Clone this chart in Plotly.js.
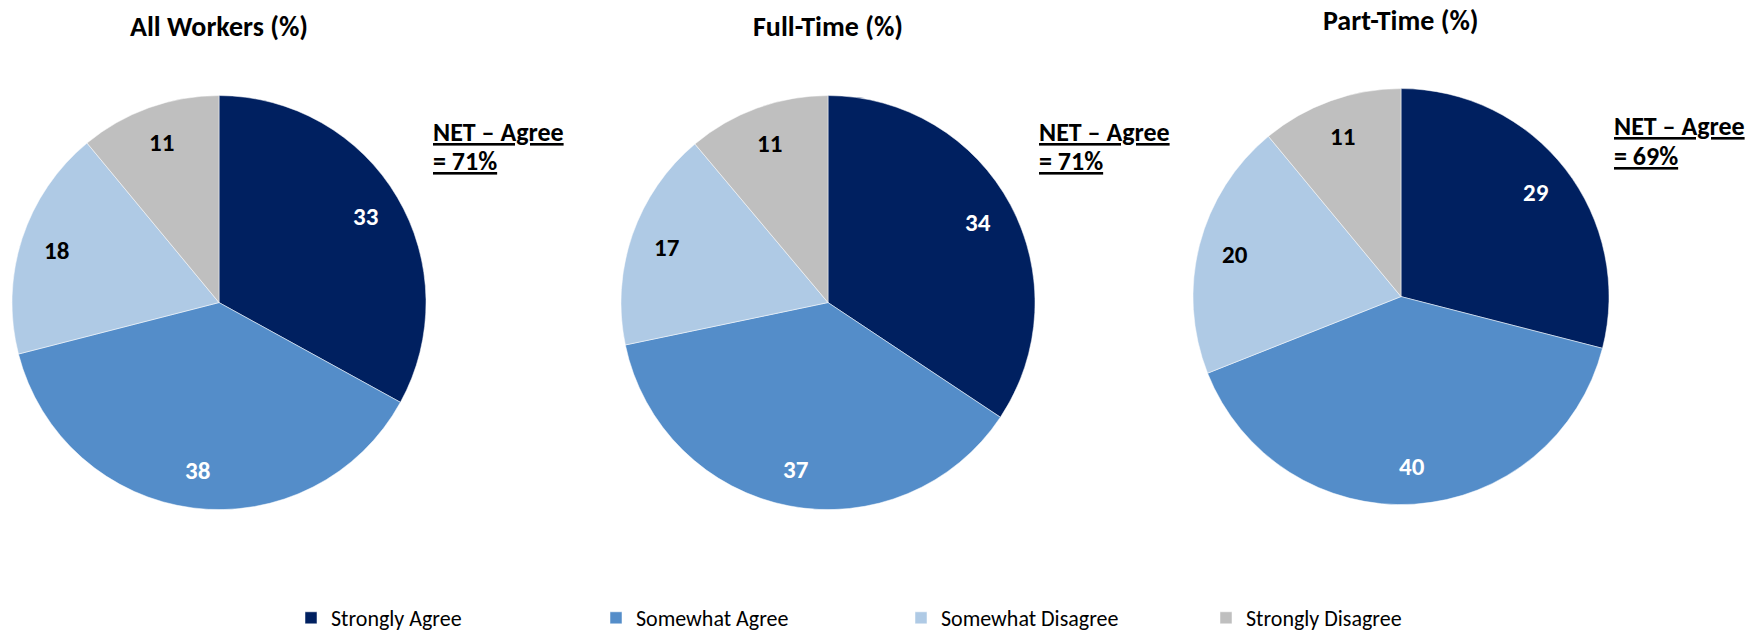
<!DOCTYPE html>
<html><head><meta charset="utf-8">
<script src="https://cdn.plot.ly/plotly-3.0.1.min.js"></script>
<style>body{margin:0;background:#fff}#chart{width:1752px;height:639px}</style>
</head><body><div id="chart"></div>
<script>
const categories = ["Strongly Agree", "Somewhat Agree", "Somewhat Disagree", "Strongly Disagree"];
const allWorkers = [33, 38, 18, 11];
const fullTime = [34, 37, 17, 11];
const partTime = [29, 40, 20, 11];
const panelTitles = ["All Workers (%)", "Full-Time (%)", "Part-Time (%)"];
const netAgreeLine1 = ["NET – Agree", "NET – Agree", "NET – Agree"];
const netAgreeLine2 = ["= 71%", "= 71%", "= 69%"];
const colors = ["#002060", "#548DC9", "#AFCAE5", "#BFBFBF"];
const textColors = ["#ffffff", "#ffffff", "#000000", "#000000"];
const FONT = "Carlito, Lato, 'Open Sans', sans-serif";
const W = 1752, H = 639;
// pie geometry in pixels: [cx, cy(from top), r]
const geo = [[219, 304, 208], [828, 304, 208], [1401, 298, 209]];
const series = [allWorkers, fullTime, partTime];
const annotations = [];
const traces = series.map((vals, i) => {
  const [cx, cy, r] = geo[i];
  // value labels placed along each slice bisector (angles derived from the data)
  const total = vals.reduce((a, b) => a + b, 0);
  let cum = 0;
  vals.forEach((v, k) => {
    const mid = (cum + v / 2) / total * 2 * Math.PI;
    cum += v;
    const rho = 0.82 * r;
    annotations.push({text: '<b>' + v + '</b>', x: (cx + rho * Math.sin(mid)) / W, y: (H - cy + rho * Math.cos(mid)) / H,
      xref: 'paper', yref: 'paper', xanchor: 'center', yanchor: 'middle', showarrow: false,
      font: {family: FONT, size: 25, color: textColors[k]}});
  });
  return {
    type: 'pie', values: vals, labels: categories, sort: false, direction: 'clockwise', rotation: 0,
    marker: {colors: colors, line: {color: '#ffffff', width: 0.5}},
    textinfo: 'none', textposition: 'none',
    hoverinfo: 'label+value', showlegend: i === 0,
    domain: {x: [(cx - r) / W, (cx + r) / W], y: [(H - cy - r) / H, (H - cy + r) / H]}
  };
});
const titleY = [27, 27, 21];
const netX = [431, 1037, 1612];
const netY1 = [133, 133, 127];
const netY2 = [162, 162, 157];
geo.forEach((g, i) => {
  annotations.push({text: '<b>' + panelTitles[i] + '</b>', x: g[0] / W, y: 1 - titleY[i] / H, xref: 'paper', yref: 'paper',
    xanchor: 'center', yanchor: 'middle', showarrow: false, font: {family: FONT, size: 28, color: '#000'}});
  [[netAgreeLine1[i], netY1[i]], [netAgreeLine2[i], netY2[i]]].forEach(([s, yy]) => {
    annotations.push({text: '<span style="text-decoration:underline"><b>' + s + '</b></span>', x: netX[i] / W, y: 1 - yy / H,
      xref: 'paper', yref: 'paper', align: 'left', xanchor: 'left', yanchor: 'middle', showarrow: false,
      font: {family: FONT, size: 26, color: '#000'}});
  });
});
const layout = {
  width: W, height: H, margin: {l: 0, r: 0, t: 0, b: 0}, paper_bgcolor: '#fff',
  font: {family: FONT, size: 22, color: '#000'},
  annotations: annotations,
  legend: {orientation: 'h', x: 291 / W, xanchor: 'left', y: 18 / H, yanchor: 'middle',
    entrywidth: 260, entrywidthmode: 'pixels', font: {family: FONT, size: 22, color: '#000'}, traceorder: 'normal'}
};
Plotly.newPlot('chart', traces, layout, {displayModeBar: false, staticPlot: true});
</script></body></html>
